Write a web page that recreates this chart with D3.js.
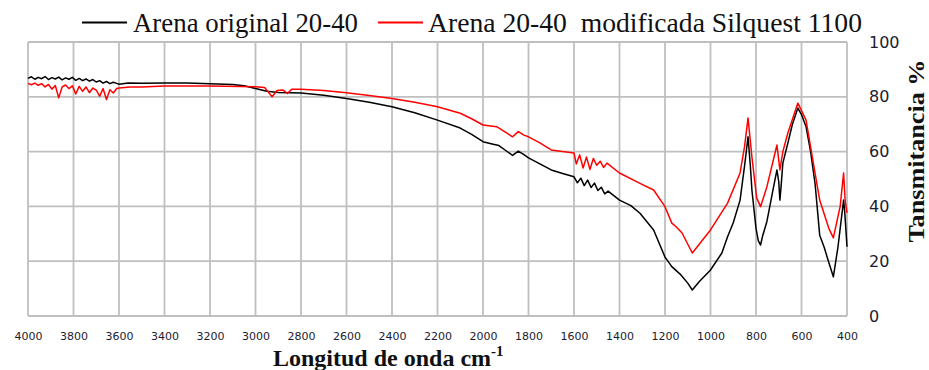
<!DOCTYPE html>
<html>
<head>
<meta charset="utf-8">
<script src="https://cdn.jsdelivr.net/npm/d3@7"></script>
<style>
  body { margin: 0; background: #fff; }
  svg { display: block; }
</style>
</head>
<body>
<svg id="chart" width="929" height="370"></svg>
<script>
// wavenumber ticks (cm-1) and transmittance ticks (%)
var xTicks = [4000, 3800, 3600, 3400, 3200, 3000, 2800, 2600, 2400, 2200, 2000, 1800, 1600, 1400, 1200, 1000, 800, 600, 400];
var yTicks = [0, 20, 40, 60, 80, 100];

var seriesNames = ["Arena original 20-40", "Arena 20-40  modificada Silquest 1100"];

// [wavenumber, transmittance]
var original = [
  [4000, 86.7], [3985, 87.3], [3970, 86.4], [3955, 87.1], [3940, 86.6], [3925, 87.4], [3910, 86.3],
  [3895, 87.0], [3880, 86.5], [3865, 87.2], [3850, 86.2], [3835, 86.9], [3820, 86.4], [3805, 87.1],
  [3790, 86.0], [3775, 86.7], [3760, 85.9], [3745, 86.5], [3730, 85.7], [3715, 86.3], [3700, 85.4],
  [3685, 85.9], [3670, 85.0], [3655, 85.6], [3640, 84.8], [3625, 85.3], [3610, 84.9], [3600, 84.6],
  [3560, 85.0], [3500, 84.9], [3400, 85.0], [3300, 85.0], [3200, 84.8], [3100, 84.5], [3050, 84.0],
  [3000, 83.0], [2950, 82.0], [2900, 81.6], [2800, 81.4], [2700, 80.6], [2600, 79.4], [2500, 78.0],
  [2400, 76.4], [2300, 74.2], [2200, 71.5], [2100, 68.6], [2050, 66.3], [2000, 63.6], [1960, 62.8],
  [1930, 62.2], [1900, 60.4], [1870, 58.6], [1845, 60.2], [1820, 58.9], [1800, 57.7], [1750, 55.5],
  [1700, 53.3], [1650, 52.0], [1600, 50.8], [1585, 48.6], [1570, 50.3], [1555, 47.6], [1540, 49.6],
  [1525, 46.9], [1510, 48.5], [1495, 45.8], [1480, 47.0], [1465, 44.6], [1450, 45.6], [1400, 42.3],
  [1350, 40.3], [1310, 37.5], [1250, 31.4], [1200, 21.5], [1170, 18.0], [1130, 15.0], [1100, 12.0],
  [1080, 9.5], [1050, 12.5], [1000, 16.8], [950, 23.0], [925, 28.9], [900, 34.0], [870, 42.3],
  [850, 55.0], [835, 65.4], [825, 55.0], [818, 46.0], [800, 32.0], [790, 27.5], [780, 25.9],
  [770, 29.5], [752, 34.5], [730, 44.0], [708, 53.3], [700, 49.0], [695, 42.3], [690, 47.0],
  [682, 55.8], [660, 63.1], [640, 70.0], [616, 75.9], [600, 73.5], [580, 69.1], [560, 60.0],
  [540, 48.0], [520, 29.5], [500, 25.0], [480, 19.5], [460, 14.3], [440, 25.0], [415, 42.3],
  [410, 38.0], [400, 25.3]
];

var modificada = [
  [4000, 84.9], [3985, 84.4], [3970, 85.0], [3955, 84.2], [3940, 84.8], [3925, 83.6], [3910, 84.5],
  [3895, 82.8], [3880, 84.1], [3865, 79.6], [3850, 83.6], [3835, 84.3], [3820, 83.0], [3805, 84.0],
  [3790, 81.0], [3775, 83.8], [3760, 82.0], [3745, 83.6], [3730, 81.5], [3715, 83.2], [3700, 82.4],
  [3685, 80.2], [3670, 83.0], [3655, 79.0], [3640, 82.6], [3625, 81.4], [3610, 83.0], [3600, 83.2],
  [3550, 83.6], [3500, 83.6], [3400, 83.9], [3200, 83.9], [3000, 83.7], [2960, 83.4], [2927, 80.0],
  [2905, 82.3], [2880, 82.5], [2860, 81.2], [2840, 82.8], [2800, 82.8], [2700, 82.3], [2600, 81.5],
  [2500, 80.5], [2400, 79.4], [2300, 78.0], [2200, 76.4], [2100, 74.0], [2050, 72.0], [2000, 69.7],
  [1940, 69.1], [1900, 67.0], [1870, 65.4], [1845, 67.3], [1820, 66.0], [1800, 65.4], [1750, 63.2],
  [1700, 60.6], [1650, 60.0], [1600, 59.5], [1590, 55.5], [1575, 58.8], [1560, 54.0], [1545, 58.0],
  [1530, 53.5], [1515, 57.5], [1500, 55.0], [1485, 56.5], [1470, 54.2], [1455, 55.8], [1400, 52.2],
  [1310, 48.4], [1250, 46.0], [1200, 39.9], [1170, 33.9], [1150, 32.5], [1125, 30.3], [1080, 23.0],
  [1000, 31.4], [925, 41.2], [870, 52.2], [850, 62.0], [835, 72.3], [818, 58.1], [797, 43.1],
  [780, 39.9], [752, 47.2], [708, 62.4], [695, 53.3], [682, 60.0], [660, 66.8], [616, 77.7],
  [580, 71.5], [540, 52.0], [520, 42.3], [480, 32.0], [460, 28.5], [430, 40.0], [415, 52.2],
  [408, 42.0], [400, 37.6]
];

var svg = d3.select("#chart");

var x = d3.scaleLinear().domain([4000, 400]).range([28, 847]);
var y = d3.scaleLinear().domain([0, 100]).range([316, 42]);

var grid = svg.append("g");
grid.selectAll("line.v")
  .data(xTicks)
  .join("line")
  .attr("class", "v")
  .attr("x1", d => x(d)).attr("x2", d => x(d))
  .attr("y1", y(0)).attr("y2", y(100))
  .style("stroke", "#bfbfbf")
  .style("stroke-width", 1.8);
grid.selectAll("line.h")
  .data(yTicks)
  .join("line")
  .attr("class", "h")
  .attr("x1", x(4000)).attr("x2", x(400))
  .attr("y1", d => y(d)).attr("y2", d => y(d))
  .style("stroke", "#bfbfbf")
  .style("stroke-width", 1.8);

// bottom tick labels
var xAxis = d3.axisBottom(x).tickValues(xTicks).tickSize(0).tickPadding(16).tickFormat(d3.format("d"));
var gx = svg.append("g")
  .attr("transform", "translate(0," + y(0) + ")")
  .call(xAxis);
gx.select(".domain").remove();
gx.selectAll("text")
  .style("font-family", "DejaVu Sans, sans-serif")
  .style("font-size", "11px")
  .style("fill", "#1c1c30");

// right tick labels
var yAxis = d3.axisRight(y).tickValues(yTicks).tickSize(0).tickPadding(22);
var gy = svg.append("g")
  .attr("transform", "translate(" + x(400) + ",0)")
  .call(yAxis);
gy.select(".domain").remove();
gy.selectAll("text")
  .style("font-family", "DejaVu Sans, sans-serif")
  .style("font-size", "16px")
  .style("fill", "#1c1c30");

var line = d3.line()
  .x(d => x(d[0]))
  .y(d => y(d[1]));

svg.append("path")
  .datum(original)
  .attr("d", line)
  .style("fill", "none")
  .style("stroke", "#000")
  .style("stroke-width", 1.5)
  .style("stroke-linejoin", "round");

svg.append("path")
  .datum(modificada)
  .attr("d", line)
  .style("fill", "none")
  .style("stroke", "#ff0000")
  .style("stroke-width", 1.5)
  .style("stroke-linejoin", "round");

// legend
var legend = [
  { name: seriesNames[0], color: "#000", x1: 82, x2: 127, tx: 133, tw: 225 },
  { name: seriesNames[1], color: "#ff0000", x1: 378, x2: 423, tx: 428, tw: 434 }
];
legend.forEach(function (l) {
  svg.append("line")
    .attr("x1", l.x1).attr("x2", l.x2)
    .attr("y1", 22.5).attr("y2", 22.5)
    .style("stroke", l.color)
    .style("stroke-width", 2);
  svg.append("text")
    .attr("x", l.tx).attr("y", 32)
    .attr("textLength", l.tw)
    .attr("lengthAdjust", "spacingAndGlyphs")
    .style("font-family", "Liberation Serif, Times New Roman, serif")
    .style("font-size", "27px")
    .style("fill", "#111")
    .style("white-space", "pre")
    .text(l.name);
});

// axis titles
var xt = svg.append("text")
  .attr("x", 273).attr("y", 366)
  .style("font-family", "Liberation Serif, Times New Roman, serif")
  .style("font-size", "24px")
  .style("font-weight", "bold")
  .style("fill", "#111");
xt.append("tspan").text("Longitud de onda cm");
xt.append("tspan").attr("dy", -10).style("font-size", "15px").text("-1");

svg.append("text")
  .attr("transform", "translate(924,151) rotate(-90)")
  .attr("text-anchor", "middle")
  .attr("textLength", 183)
  .attr("lengthAdjust", "spacingAndGlyphs")
  .style("font-family", "Liberation Serif, Times New Roman, serif")
  .style("font-size", "23px")
  .style("font-weight", "bold")
  .style("fill", "#111")
  .text("Tansmitancia %");
</script>
</body>
</html>
